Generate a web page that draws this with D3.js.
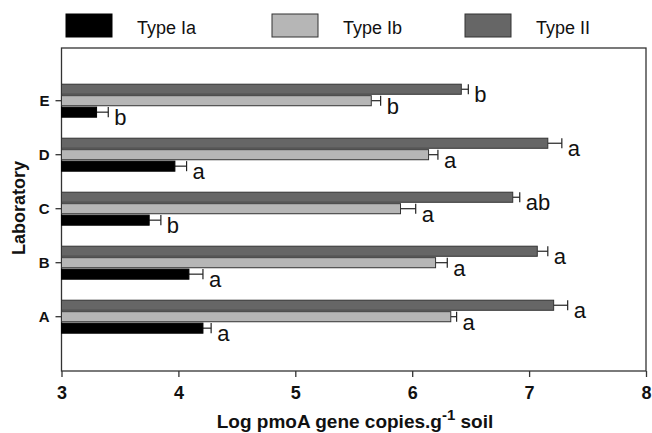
<!DOCTYPE html>
<html><head><meta charset="utf-8">
<script src="https://cdn.jsdelivr.net/npm/d3@7"></script>
<style>body{margin:0;background:#fff}svg{display:block;font-family:"Liberation Sans",Arial,sans-serif}</style>
</head><body>
<svg id="c" width="652" height="433"></svg>
<script>
const labs = ["E","D","C","B","A"];
const types = ["Type II","Type Ib","Type Ia"];
const legendOrder = ["Type Ia","Type Ib","Type II"];
const typeIa  = [3.30, 3.97, 3.75, 4.09, 4.21];
const typeIaErr = [0.10, 0.10, 0.10, 0.12, 0.07];
const typeIaSig = ["b","a","b","a","a"];
const typeIb  = [5.65, 6.14, 5.90, 6.20, 6.33];
const typeIbErr = [0.08, 0.08, 0.13, 0.10, 0.05];
const typeIbSig = ["b","a","a","a","a"];
const typeII  = [6.42, 7.16, 6.86, 7.07, 7.21];
const typeIIErr = [0.06, 0.12, 0.06, 0.09, 0.12];
const typeIISig = ["b","a","ab","a","a"];
const xTicks = [3,4,5,6,7,8];

const fills = {"Type Ia":"#000000","Type Ib":"#b6b6b6","Type II":"#666666"};
const strokes = {"Type Ia":"#000000","Type Ib":"#333333","Type II":"#333333"};
const series = {
  "Type Ia": {v:typeIa, e:typeIaErr, s:typeIaSig},
  "Type Ib": {v:typeIb, e:typeIbErr, s:typeIbSig},
  "Type II": {v:typeII, e:typeIIErr, s:typeIISig}
};
const rows = [];
labs.forEach((l,i)=>types.forEach(t=>rows.push({lab:l,type:t,v:series[t].v[i],e:series[t].e[i],s:series[t].s[i]})));

const svg = d3.select("#c");
const L=61.5, R=646, T=48, B=371;
const x = d3.scaleLinear().domain([3,8]).range([L,R]);
const y = d3.scaleBand().domain(labs).range([73.7,343.7]);
const yi = d3.scaleBand().domain(types).range([10.5,43.5]).paddingInner(0.12);

// frame
svg.append("rect").attr("x",L).attr("y",T).attr("width",R-L).attr("height",B-T)
  .attr("fill","none").attr("stroke","#333").attr("stroke-width",1.3);

const g = svg.append("g");
// error bars
rows.forEach(d=>{
  const yc = y(d.lab)+yi(d.type)+yi.bandwidth()/2;
  const x0 = x(d.v), x1 = x(d.v+d.e);
  g.append("line").attr("x1",x0).attr("x2",x1).attr("y1",yc).attr("y2",yc).attr("stroke","#222").attr("stroke-width",1.2);
  g.append("line").attr("x1",x1).attr("x2",x1).attr("y1",yc-yi.bandwidth()/2).attr("y2",yc+yi.bandwidth()/2).attr("stroke","#222").attr("stroke-width",1.2);
  g.append("text").attr("x",x1+6).attr("y",yc+13).attr("font-size",22).attr("fill","#111").text(d.s);
});
g.selectAll("rect.bar").data(rows).join("rect").attr("class","bar")
  .attr("x",x(3)).attr("y",d=>y(d.lab)+yi(d.type))
  .attr("width",d=>x(d.v)-x(3)).attr("height",yi.bandwidth())
  .attr("fill",d=>fills[d.type]).attr("stroke",d=>strokes[d.type]).attr("stroke-width",1);

// x axis
const xa = svg.append("g").attr("transform",`translate(0,${B})`)
  .call(d3.axisBottom(x).tickValues(xTicks).tickFormat(d3.format("d")).tickSize(6).tickSizeOuter(0));
xa.select(".domain").remove();
xa.selectAll("line").attr("stroke","#333").attr("stroke-width",1.3);
xa.selectAll("text").attr("font-size",18).attr("font-weight","bold").attr("fill","#111").attr("dy","1.05em");

// y axis
const ya = svg.append("g").attr("transform",`translate(${L},0)`)
  .call(d3.axisLeft(y).tickSize(6).tickSizeOuter(0));
ya.select(".domain").remove();
ya.selectAll("line").attr("stroke","#333").attr("stroke-width",1.3);
ya.selectAll("text").attr("font-size",15).attr("font-weight","bold").attr("fill","#111").attr("x",-12);

// axis titles
const xt = svg.append("text").attr("x",355).attr("y",428).attr("text-anchor","middle")
  .attr("font-size",19).attr("font-weight","bold").attr("fill","#111");
xt.append("tspan").text("Log pmoA gene copies.g");
xt.append("tspan").attr("dy",-8).attr("font-size",15).text("-1");
xt.append("tspan").attr("dy",8).text(" soil");
svg.append("text").attr("transform","translate(25,208) rotate(-90)").attr("text-anchor","middle")
  .attr("font-size",18).attr("font-weight","bold").attr("fill","#111").text("Laboratory");

// legend
const legX = [66, 272, 465];
legendOrder.forEach((t,i)=>{
  svg.append("rect").attr("x",legX[i]).attr("y",14).attr("width",46).attr("height",23)
    .attr("fill",fills[t]).attr("stroke",strokes[t]).attr("stroke-width",1);
  svg.append("text").attr("x",legX[i]+71).attr("y",34).attr("font-size",18).attr("fill","#111").text(t);
});
</script>
</body></html>
